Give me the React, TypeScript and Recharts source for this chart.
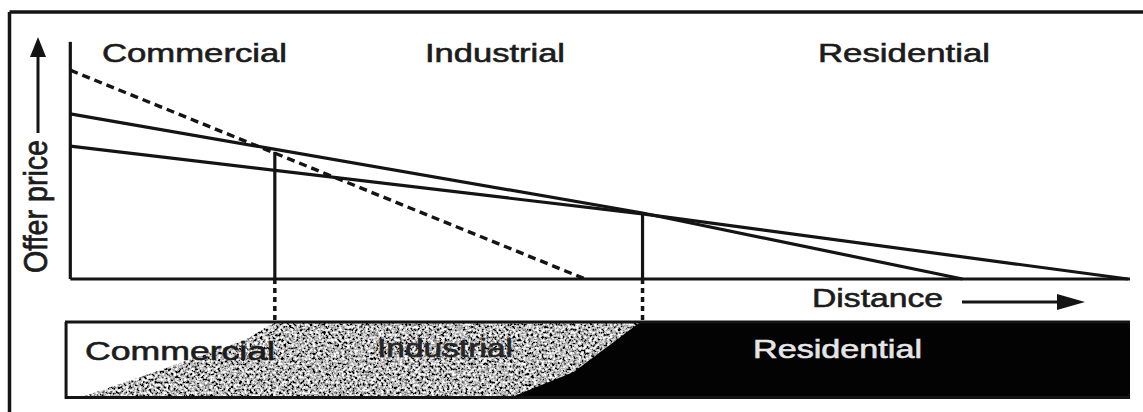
import { ComposedChart, Line, Area, XAxis, YAxis, ReferenceLine } from 'recharts'

// offer-price (bid-rent) curves, x = distance, y = offer price
const COMMERCIAL = [
  { x: 0, y: 87 },
  { x: 48.6, y: 0 },
]
const INDUSTRIAL = [
  { x: 0, y: 68.8 },
  { x: 54, y: 27.5 },
  { x: 84.2, y: 0 },
]
const RESIDENTIAL = [
  { x: 0, y: 55.4 },
  { x: 54, y: 27.1 },
  { x: 99.8, y: 0 },
]

// where the top curve changes hands, and the offer price there
const ZONE_EDGES = [19.3, 54]
const EDGE_PRICES = [53, 27.5]
const ZONES = ['Commercial', 'Industrial', 'Residential']

// land-use strip under the axis
const BAND_TOP = -17.9
const BAND_BOTTOM = -50
const BAND_FULL = [
  { x: -0.5, r: [BAND_BOTTOM, BAND_TOP] },
  { x: 100, r: [BAND_BOTTOM, BAND_TOP] },
]
const BAND_WHITE = [
  { x: -0.5, r: [BAND_BOTTOM, BAND_TOP] },
  { x: 0.8, r: [-49.6, BAND_TOP] },
  { x: 8.5, r: [-37.9, BAND_TOP] },
  { x: 16.5, r: [-25.4, BAND_TOP] },
  { x: 19.3, r: [BAND_TOP, BAND_TOP] },
]
const BAND_BLACK = [
  { x: 41.2, r: [BAND_BOTTOM, BAND_BOTTOM] },
  { x: 47.5, r: [BAND_BOTTOM, -38.75] },
  { x: 53.8, r: [BAND_BOTTOM, BAND_TOP] },
  { x: 100, r: [BAND_BOTTOM, BAND_TOP] },
]

const W = 1143
const H = 412
const INK = '#141414'
const FONT = '"Liberation Sans", Arial, sans-serif'

function Word({ x, y, len, children, fill = '#1c1c1c' }: { x: number; y: number; len: number; children: string; fill?: string }) {
  return (
    <text x={x} y={y} fontSize={26} fontFamily={FONT} fill={fill} stroke={fill} strokeWidth={0.6}
      textLength={len} lengthAdjust="spacingAndGlyphs">
      {children}
    </text>
  )
}

export default function App() {
  return (
    <div style={{ position: 'absolute', left: 0, top: 0, width: W, height: H, overflow: 'hidden', background: '#fff' }}>
      <div style={{ position: 'absolute', left: 0, top: 0 }}>
        <ComposedChart width={W} height={H} margin={{ top: 39, right: 13, bottom: 13, left: 65 }}>
          <defs>
            <filter id="grain" x="0" y="0" width="100%" height="100%">
              <feTurbulence type="fractalNoise" baseFrequency="0.38" numOctaves={3} seed={7} result="n" />
              <feColorMatrix in="n" type="matrix" values="1 0 0 0 0  1 0 0 0 0  1 0 0 0 0  0 0 0 0 1" result="g" />
              <feComponentTransfer in="g">
                <feFuncR type="linear" slope={2.6} intercept={-0.82} />
                <feFuncG type="linear" slope={2.6} intercept={-0.82} />
                <feFuncB type="linear" slope={2.6} intercept={-0.82} />
              </feComponentTransfer>
            </filter>
            <pattern id="grayGrain" patternUnits="userSpaceOnUse" width={W} height={H}>
              <rect width={W} height={H} filter="url(#grain)" />
            </pattern>
          </defs>
          <XAxis type="number" dataKey="x" domain={[-0.5, 100]} allowDataOverflow hide />
          <YAxis type="number" domain={[-50, 100]} allowDataOverflow hide />

          <Area data={BAND_FULL} dataKey="r" type="linear" fill="url(#grayGrain)" fillOpacity={1} stroke="none" dot={false} activeDot={false} isAnimationActive={false} />
          <Area data={BAND_WHITE} dataKey="r" type="linear" fill="#ffffff" fillOpacity={1} stroke="none" dot={false} activeDot={false} isAnimationActive={false} />
          <Area data={BAND_BLACK} dataKey="r" type="linear" fill="#030303" fillOpacity={1} stroke="none" dot={false} activeDot={false} isAnimationActive={false} />

          <ReferenceLine segment={[{ x: -0.5, y: BAND_TOP }, { x: 100, y: BAND_TOP }]} stroke={INK} strokeWidth={3} />
          <ReferenceLine segment={[{ x: -0.5, y: BAND_BOTTOM + 0.6 }, { x: 100, y: BAND_BOTTOM + 0.6 }]} stroke={INK} strokeWidth={3} />
          <ReferenceLine segment={[{ x: -0.4, y: BAND_BOTTOM }, { x: -0.4, y: BAND_TOP }]} stroke={INK} strokeWidth={3} />

          <ReferenceLine segment={[{ x: 0, y: 0 }, { x: 100, y: 0 }]} stroke={INK} strokeWidth={3.2} />
          <ReferenceLine segment={[{ x: 0, y: 0 }, { x: 0, y: 98.8 }]} stroke={INK} strokeWidth={3.2} />

          {ZONE_EDGES.map((e, i) => (
            <ReferenceLine key={'v' + i} segment={[{ x: e, y: 0 }, { x: e, y: EDGE_PRICES[i] }]} stroke={INK} strokeWidth={3.2} />
          ))}
          {ZONE_EDGES.map((e, i) => (
            <ReferenceLine key={'d' + i} segment={[{ x: e, y: 0 }, { x: e, y: BAND_TOP }]} stroke={INK} strokeWidth={3.5} strokeDasharray="5 4" />
          ))}

          <Line data={COMMERCIAL} dataKey="y" type="linear" stroke={INK} strokeWidth={3.4} strokeDasharray="8 5" dot={false} activeDot={false} isAnimationActive={false} />
          <Line data={INDUSTRIAL} dataKey="y" type="linear" stroke={INK} strokeWidth={3.2} dot={false} activeDot={false} isAnimationActive={false} />
          <Line data={RESIDENTIAL} dataKey="y" type="linear" stroke={INK} strokeWidth={3.2} dot={false} activeDot={false} isAnimationActive={false} />
        </ComposedChart>
      </div>

      <svg width={W} height={H} style={{ position: 'absolute', left: 0, top: 0, pointerEvents: 'none' }}>
        {/* scanned page frame: only its top and left edges fall inside the crop */}
        <line x1={9.5} y1={12} x2={W} y2={12} stroke={INK} strokeWidth={3.5} />
        <line x1={9.5} y1={12} x2={9.5} y2={H} stroke={INK} strokeWidth={3.5} />

        <Word x={102} y={62} len={185}>{ZONES[0]}</Word>
        <Word x={425} y={62} len={140}>{ZONES[1]}</Word>
        <Word x={818} y={62} len={172}>{ZONES[2]}</Word>

        <g transform="translate(47,273) rotate(-90) scale(1,1.3)">
          <text x={0} y={0} fontSize={26} fontFamily={FONT} fill="#1c1c1c" stroke="#1c1c1c" strokeWidth={0.6}
            textLength={133} lengthAdjust="spacingAndGlyphs">
            Offer price
          </text>
        </g>
        <line x1={38} y1={133} x2={38} y2={54} stroke={INK} strokeWidth={3} />
        <polygon points="38,37 30,57 46,57" fill={INK} />

        <Word x={812} y={307} len={131}>Distance</Word>
        <line x1={962} y1={302} x2={1062} y2={302} stroke={INK} strokeWidth={3} />
        <polygon points="1085,302 1057,294 1057,310" fill={INK} />

        <Word x={85} y={360} len={190}>{ZONES[0]}</Word>
        <Word x={377} y={357} len={136} fill="#262626">{ZONES[1]}</Word>
        <Word x={753} y={358} len={169} fill="#e6e6e6">{ZONES[2]}</Word>
      </svg>
    </div>
  )
}
